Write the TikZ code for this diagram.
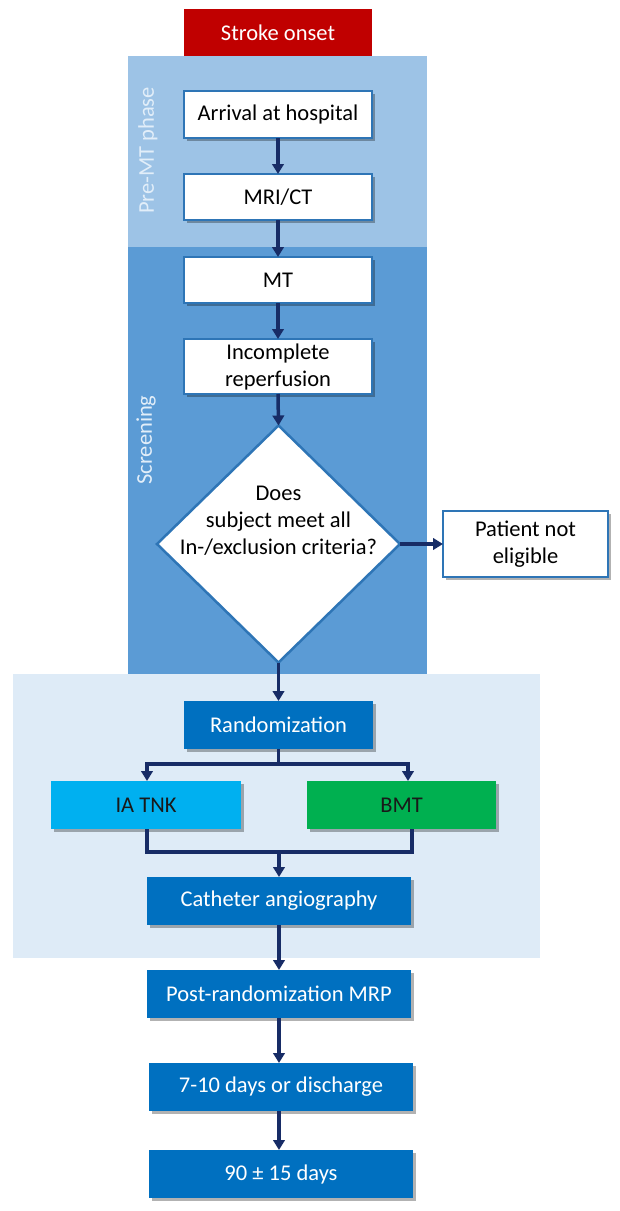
\documentclass[tikz,border=0pt]{standalone}
\usepackage{fontspec}
\setmainfont{Carlito}
\usetikzlibrary{arrows.meta,shapes.geometric,shadows}
\definecolor{strokered}{HTML}{C00000}
\definecolor{premt}{HTML}{9DC3E6}
\definecolor{screen}{HTML}{5B9BD5}
\definecolor{lightbg}{HTML}{DEEBF7}
\definecolor{boxblue}{HTML}{0070C0}
\definecolor{tnkblue}{HTML}{00B0F0}
\definecolor{bmtgreen}{HTML}{00B050}
\definecolor{navy}{HTML}{172C66}
\definecolor{bordblue}{HTML}{2E75B6}
\definecolor{labelc}{HTML}{E2EEF9}
\begin{document}
\begin{tikzpicture}[x=1pt,y=-1pt,
  every node/.style={font=\fontsize{22.5}{27}\selectfont, align=center, inner sep=0pt, outer sep=0pt},
  shad/.style={drop shadow={shadow xshift=2.5pt,shadow yshift=-2.5pt,opacity=0.3,fill=black}},
  wbox/.style={draw=bordblue, line width=2.5pt, fill=white, minimum width=188pt, shad},
  bbox/.style={fill=boxblue, text=white, minimum height=48pt, shad},
  arr/.style={draw=navy, line width=3.5pt, -{Triangle[width=11.5pt,length=10pt]}},
  ln/.style={draw=navy, line width=3.5pt},
  vlabel/.style={rotate=90, text=labelc}
]
\useasboundingbox (0,0) rectangle (620,1211);
% backgrounds
\fill[premt] (128,56) rectangle (427,247);
\fill[screen] (128,247) rectangle (427,674);
\fill[lightbg] (13,674) rectangle (540,958);

\node[vlabel] (premtlbl) at (148,150.5) {Pre-MT phase};
\node[vlabel] (screenlbl) at (146,440) {Screening};

% nodes
\node[fill=strokered, text=white, minimum width=188pt, minimum height=47pt] (onset) at (278,32.5) {Stroke onset};
\node[wbox, minimum height=47pt] (arrival) at (278,114.5) {Arrival at hospital};
\node[wbox, minimum height=46pt] (mri) at (278,197) {MRI/CT};
\node[wbox, minimum height=46pt] (mt) at (278,280) {MT};
\node[wbox, minimum height=55pt] (incomp) at (278,366.5) {Incomplete\\reperfusion};
\node[diamond, draw=bordblue, line width=2.5pt, fill=white, minimum width=243pt, minimum height=237pt] (dia) at (278.5,544) {};
\node (diatext) at (278.5,521) {Does\\subject meet all\\In-/exclusion criteria?};
\node[wbox, minimum width=165pt, minimum height=66pt] (notel) at (525.5,544) {Patient not\\eligible};

\node[bbox, minimum width=189pt] (rand) at (278.5,725) {Randomization};
\node[fill=tnkblue, text=black!90, minimum width=190pt, minimum height=48pt, shad] (tnk) at (146,805) {IA TNK};
\node[fill=bmtgreen, text=black!90, minimum width=189pt, minimum height=48pt, shad] (bmt) at (401.5,805) {BMT};
\node[bbox, minimum width=264pt] (cath) at (279,901) {Catheter angiography};
\node[bbox, minimum width=264pt] (post) at (279,994) {Post-randomization MRP};
\node[bbox, minimum width=264pt] (d7) at (281,1087) {7-10 days or discharge};
\node[bbox, minimum width=264pt] (d90) at (281,1174) {90 ± 15 days};

% connectors
\draw[arr] (arrival.south) -- (mri.north);
\draw[arr] (mri.south) -- (mt.north);
\draw[arr] (mt.south) -- (incomp.north);
\draw[arr] (incomp.south) -- (dia.north);
\draw[arr] (dia.east) -- (notel.west);
\draw[arr] (dia.south) -- (rand.north);

\coordinate (split) at (278.5,764);
\draw[ln] (rand.south) -- (split);
\draw[arr] (split) -| ([xshift=1pt]tnk.north);
\draw[arr] (split) -| ([xshift=6.5pt]bmt.north);

\coordinate (merge) at (279,852);
\draw[ln] ([xshift=1pt]tnk.south) |- (merge) -| ([xshift=10.5pt]bmt.south);
\draw[arr] (merge) -- (cath.north);

\draw[arr] (cath.south) -- (cath.south |- post.north);
\draw[arr] (post.south) -- (post.south |- d7.north);
\draw[arr] (post.south |- d7.south) -- (post.south |- d90.north);
\end{tikzpicture}
\end{document}
